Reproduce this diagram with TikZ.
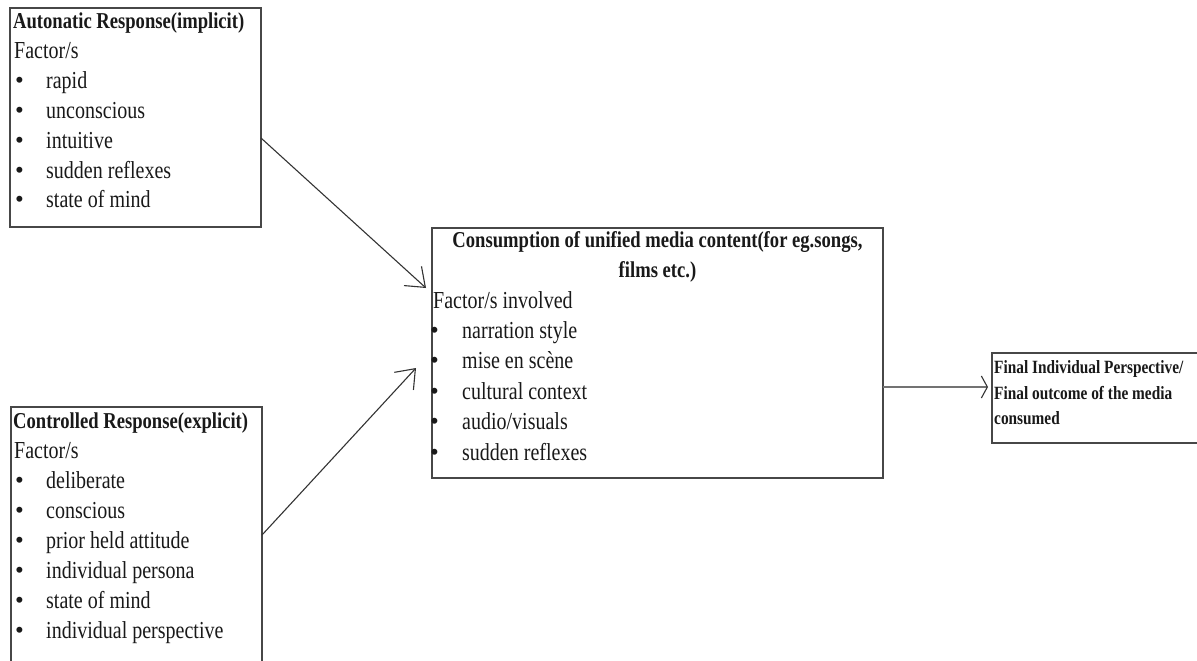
\documentclass[tikz,border=0pt]{standalone}
\usepackage{fontspec}
\setmainfont{Liberation Serif}[FakeStretch=0.82]
\newfontfamily\bulfont{Liberation Serif}
\newcommand{\mybul}{{\bulfont\fontsize{25}{25}\selectfont\textbullet}}
\usetikzlibrary{arrows.meta,calc}
\begin{document}
\begin{tikzpicture}[x=1pt,y=-1pt,
  box/.style={draw=black!72, line width=1.5pt, anchor=north west, inner sep=0pt, outer sep=0pt},
  ttl/.style={font=\fontsize{22.7}{26}\selectfont\bfseries, anchor=base west, inner sep=0pt, text=black!90},
  ctl/.style={font=\fontsize{22.7}{26}\selectfont\bfseries, anchor=base, inner sep=0pt, text=black!90},
  txt/.style={font=\fontsize{24.4}{28}\selectfont, anchor=base west, inner sep=0pt, text=black!90},
  fin/.style={font=\fontsize{18.7}{22}\selectfont\bfseries, anchor=base west, inner sep=0pt, text=black!90},
  link/.style={draw=black!80, line width=1.1pt, -{Straight Barb[length=17pt,width=26pt,line width=1.1pt]}},
  flat/.style={draw=black!55, line width=1.6pt, -{Straight Barb[length=6pt,width=22pt,line width=1.1pt,black!80]}}
]
\useasboundingbox (0,0) rectangle (1197,661);
\fill[white] (0,0) rectangle (1197,661);
\clip (0,0) rectangle (1197,661);

% boxes
\node[box, minimum width=251pt, minimum height=219pt] (A) at (10,8) {};
\node[box, minimum width=251pt, minimum height=273pt] (B) at (11,407) {};
\node[box, minimum width=451pt, minimum height=250pt] (C) at (432,228) {};
\node[box, minimum width=220pt, minimum height=90pt] (D) at (992,353) {};

% box A text
\node[ttl] (At) at (13,29) {Autonatic Response(implicit)};
\node[txt] (Af) at (14,58.8) {Factor/s};
\foreach \t [count=\i] in {rapid,unconscious,intuitive,sudden reflexes,state of mind}
  \node[txt] (A\i) at (15,58.8+29.8*\i) {\makebox[31pt][l]{\mybul}\t};

% box B text
\node[ttl] (Bt) at (13,428) {Controlled Response(explicit)};
\node[txt] (Bf) at (14,458) {Factor/s};
\foreach \t [count=\i] in {deliberate,conscious,prior held attitude,individual persona,state of mind,individual perspective}
  \node[txt] (B\i) at (15,458+30*\i) {\makebox[31pt][l]{\mybul}\t};

% box C text
\node[ctl] (Ct1) at (657.5,247) {Consumption of unified media content(for eg.songs,};
\node[ctl] (Ct2) at (657.5,277) {films etc.)};
\node[txt] (Cf) at (433,308) {Factor/s involved};
\foreach \t [count=\i] in {narration style,mise en scène,cultural context,audio/visuals,sudden reflexes}
  \node[txt] (C\i) at (430,308+30.4*\i) {\makebox[32pt][l]{\mybul}\t};

% box D text
\node[fin] (D1) at (994,373) {Final Individual Perspective/};
\node[fin] (D2) at (994,399) {Final outcome of the media};
\node[fin] (D3) at (994,424) {consumed};

% connectors
\draw[link] ([yshift=-20.5pt]A.east) -- ([xshift=-6pt,yshift=65pt]C.west);
\draw[link] ([yshift=8.5pt]B.east) -- ([xshift=-16pt,yshift=-15pt]C.west);
\draw[flat] ([yshift=-34pt]C.east) -- ([xshift=-4pt,yshift=11pt]D.west);
\end{tikzpicture}
\end{document}
